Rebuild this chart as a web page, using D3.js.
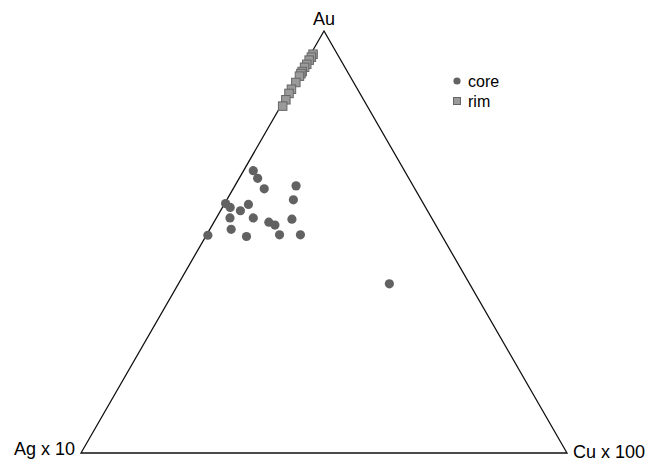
<!DOCTYPE html>
<html>
<head>
<meta charset="utf-8">
<script src="https://cdn.jsdelivr.net/npm/d3@7"></script>
<style>
  body { margin: 0; background: #fff; }
  svg { display: block; font-family: "Liberation Sans", Arial, sans-serif; }
</style>
</head>
<body>
<div id="chart"></div>
<script>
// apex labels
const apexLabels = ["Au", "Ag x 10", "Cu x 100"];

// core analyses (normalised %, Au / Ag x 10 / Cu x 100)
const coreAu = [66.9, 65.1, 62.6, 63.3, 60.0, 59.1, 58.2, 57.4, 58.9, 55.7, 55.7, 54.7, 54.0, 55.4, 53.0, 51.3, 51.7, 51.7, 51.6, 40.1];
const coreAg = [31.1, 31.1, 31.0, 24.1, 26.3, 40.7, 40.2, 38.5, 36.1, 41.5, 36.7, 34.0, 33.1, 28.9, 42.6, 40.3, 33.3, 29.0, 48.1, 16.5];
const coreCu = [2.0, 3.8, 6.4, 12.6, 13.7, 0.2, 1.6, 4.1, 5.0, 2.8, 7.6, 11.3, 12.9, 15.7, 4.4, 8.4, 15.0, 19.3, 0.3, 43.4];

// rim analyses
const rimAu = [94.5, 93.8, 93.1, 92.1, 91.4, 90.4, 89.9, 89.3, 87.8, 86.2, 85.2, 83.7, 82.2];
const rimAg = [5.0, 5.7, 6.5, 7.5, 8.3, 9.3, 9.8, 10.4, 11.9, 13.6, 14.6, 16.0, 17.4];
const rimCu = [0.5, 0.5, 0.4, 0.4, 0.3, 0.3, 0.3, 0.3, 0.3, 0.2, 0.2, 0.3, 0.4];

const legendNames = ["core", "rim"];

const width = 653, height = 461;

const svg = d3.select("#chart").append("svg")
    .attr("width", width)
    .attr("height", height);

// ternary -> cartesian via two linear scales
const xScale = d3.scaleLinear().domain([0, 1]).range([81, 567]);
const yScale = d3.scaleLinear().domain([0, 1]).range([453, 31]);

function project(au, ag, cu) {
    let s = au + ag + cu;
    let a = au / s, c = cu / s;
    return [xScale(c + a / 2), yScale(a)];
}

const corners = [project(1, 0, 0), project(0, 1, 0), project(0, 0, 1)];

svg.append("path")
    .attr("d", d3.line()(corners) + "Z")
    .attr("fill", "none")
    .attr("stroke", "#111")
    .attr("stroke-width", 1.3);

// apex labels
svg.append("text")
    .attr("x", corners[0][0])
    .attr("y", corners[0][1] - 6)
    .attr("text-anchor", "middle")
    .attr("font-size", 18)
    .text(apexLabels[0]);
svg.append("text")
    .attr("x", corners[1][0] - 6)
    .attr("y", corners[1][1] + 2)
    .attr("text-anchor", "end")
    .attr("font-size", 18)
    .text(apexLabels[1]);
svg.append("text")
    .attr("x", corners[2][0] + 6)
    .attr("y", corners[2][1] + 5)
    .attr("text-anchor", "start")
    .attr("font-size", 18)
    .text(apexLabels[2]);

const coreData = coreAu.map((d, i) => project(d, coreAg[i], coreCu[i]));
const rimData = rimAu.map((d, i) => project(d, rimAg[i], rimCu[i]));

svg.append("g").selectAll("circle")
    .data(coreData).enter()
    .append("circle")
    .attr("cx", d => d[0])
    .attr("cy", d => d[1])
    .attr("r", 4.6)
    .attr("fill", "#626262");

const sq = 8.5;
svg.append("g").selectAll("rect")
    .data(rimData).enter()
    .append("rect")
    .attr("x", d => d[0] - sq / 2)
    .attr("y", d => d[1] - sq / 2)
    .attr("width", sq)
    .attr("height", sq)
    .attr("fill", "#9a9a9a")
    .attr("stroke", "#666")
    .attr("stroke-width", 1);

// legend
const legend = svg.append("g").attr("transform", "translate(457,81)");
legend.append("circle").attr("cx", 0).attr("cy", 0).attr("r", 3.6).attr("fill", "#626262");
legend.append("rect").attr("x", -3.5).attr("y", 16.5).attr("width", 7).attr("height", 7)
    .attr("fill", "#9a9a9a").attr("stroke", "#666");
legend.selectAll("text")
    .data(legendNames).enter()
    .append("text")
    .attr("x", 11)
    .attr("y", (d, i) => i * 20 + 5.5)
    .attr("font-size", 16)
    .text(d => d);
</script>
</body>
</html>
